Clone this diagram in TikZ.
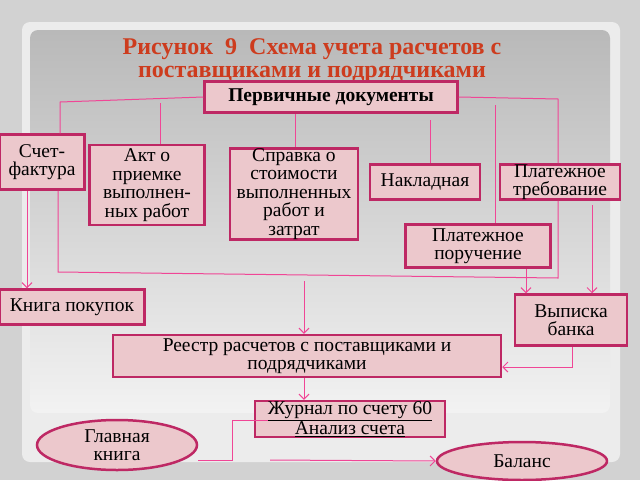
\documentclass[tikz,border=0pt]{standalone}
\usepackage{fontspec}
\setmainfont{Liberation Serif}
\usetikzlibrary{shapes.geometric,arrows.meta}
\definecolor{lnk}{RGB}{240,70,150}
\definecolor{brd}{RGB}{190,40,100}
\definecolor{fil}{RGB}{236,200,204}
\definecolor{ttl}{RGB}{205,60,30}
\begin{document}
\begin{tikzpicture}
        [x=1pt, y=-1pt,
        doc/.style={draw=brd, line width=2.5pt, fill=fil, align=center, inner sep=0pt,
          font=\fontsize{19.5}{18.5}\selectfont},
        oval/.style={doc, ellipse},
        link/.style={lnk, line width=1pt},
        arr/.style={lnk, line width=1pt, -{Straight Barb[length=5pt]}}]

        % background
        \useasboundingbox (0,0) rectangle (640,480);
        \fill[gray!35] (0,0) rectangle (640,480);
        \fill[rounded corners=8pt, gray!15] (22,22) rectangle (620,462);
        \shade[rounded corners=8pt, top color=gray!55, bottom color=gray!10] (30,30) rectangle (610,413);

        % title
        \node[ttl, font=\bfseries\fontsize{24}{23}\selectfont, align=center] (title) at (312,61)
          {Рисунок \ 9 \ Схема учета расчетов с\\поставщиками и подрядчиками};

        \node[doc, font=\bfseries\fontsize{19.5}{19}\selectfont, minimum width=253pt, minimum height=31pt] (prim) at (331,97) {Первичные документы};
        \node[doc, minimum width=85pt, minimum height=55pt] (sf) at (42,162) {Счет-\\фактура};
        \node[doc, minimum width=115pt, minimum height=80pt] (akt) at (147,185) {Акт о\\приемке\\выполнен-\\ных работ};
        \node[doc, minimum width=128pt, minimum height=88pt] (spr) at (294,194) {Справка о\\стоимости\\выполненных\\работ и\\затрат};
        \node[doc, minimum width=110pt, minimum height=35pt] (nakl) at (425,182) {Накладная};
        \node[doc, minimum width=120pt, minimum height=35pt] (treb) at (560,182) {Платежное\\требование};
        \node[doc, minimum width=145pt, minimum height=43pt] (por) at (478,246) {Платежное\\поручение};
        \node[doc, minimum width=145pt, minimum height=35pt] (kn) at (72,307) {Книга покупок};
        \node[doc, minimum width=112pt, minimum height=51pt] (vyp) at (571,320) {Выписка\\банка};
        \node[doc, minimum width=388pt, minimum height=42pt] (reestr) at (307,356) {Реестр расчетов с поставщиками и\\подрядчиками};
        \node[doc, minimum width=190pt, minimum height=36pt] (zh) at (350,419) {\underline{Журнал по счету 60}\\\underline{Анализ счета}};
        \node[oval, minimum width=160pt, minimum height=50pt] (gk) at (117,445) {Главная\\книга};
        \node[oval, minimum width=170pt, minimum height=38pt] (bal) at (522,461) {Баланс};

        % links from primary documents
        \draw[link] (prim.west) -- (60,102) -- (sf.north -| 60,0);
        \draw[link] (160,103) -- (akt.north -| 160,0);
        \draw[link] (prim.south -| 295,0) -- (spr.north -| 295,0);
        \draw[link] (430,120) -- (nakl.north -| 430,0);
        \draw[link] (prim.east) -- (558,99) -- (treb.north -| 558,0);
        \draw[link] (495,105) -- (por.north -| 495,0);

        % collector
        \draw[arr] (sf.south -| 27,0) -- (kn.north -| 27,0);
        \draw[link] (sf.south -| 58,0) -- (58,272) -- (558,278) -- (treb.south -| 558,0);
        \draw[arr] (304,281) -- (reestr.north -| 304,0);
        \draw[arr] (por.south -| 526,0) -- (vyp.north -| 526,0);
        \draw[arr] (592,205) -- (vyp.north -| 592,0);
        \draw[arr] (vyp.south -| 572,0) |- (reestr.east |- 0,367);
        \draw[arr] (reestr.south -| 304,0) -- (zh.north -| 304,0);

        % bottom
        \draw[link] (268,420) -- (232,420) -- (232,460) -- (gk.east |- 0,460);
        \draw[arr] (270,460) -- (bal.west);
\end{tikzpicture}
\end{document}
